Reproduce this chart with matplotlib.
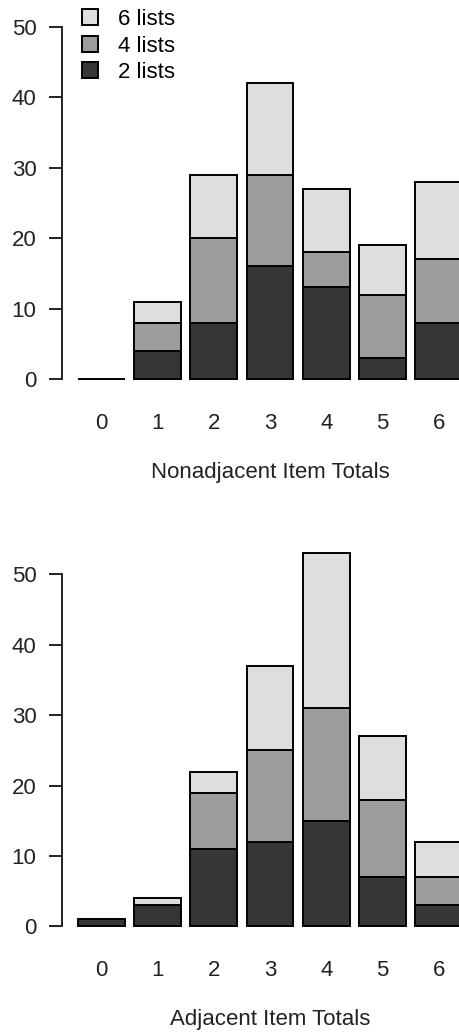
import matplotlib
matplotlib.use("Agg")
import matplotlib.pyplot as plt
from matplotlib.patches import Patch
import numpy as np

plt.rcParams['font.family'] = ['Liberation Sans', 'DejaVu Sans']

categories = [0, 1, 2, 3, 4, 5, 6]
series_names = ["2 lists", "4 lists", "6 lists"]
colors = ["#363636", "#9c9c9c", "#dedede"]

# Nonadjacent item totals, by number of lists
nonadj_2 = [0, 4, 8, 16, 13, 3, 8]
nonadj_4 = [0, 4, 12, 13, 5, 9, 9]
nonadj_6 = [0, 3, 9, 13, 9, 7, 11]

# Adjacent item totals, by number of lists
adj_2 = [1, 3, 11, 12, 15, 7, 3]
adj_4 = [0, 0, 8, 13, 16, 11, 4]
adj_6 = [0, 1, 3, 12, 22, 9, 5]

yticks = [0, 10, 20, 30, 40, 50]

W, H = 460, 1033
fig = plt.figure(figsize=(W / 100, H / 100), dpi=100)

left_px = 62
xlim = (-0.703, 6.38)
bar_w = 1 / 1.2
lw = 1.4
fs = 16
ink = "#222222"


def stacked(ax, layers):
    x = np.arange(len(categories))
    bottom = np.zeros(len(categories))
    for vals, c in zip(layers, colors):
        ax.bar(x, vals, width=bar_w, bottom=bottom, color=c,
               edgecolor="black", linewidth=lw, clip_on=False, zorder=3)
        bottom += np.array(vals)
    ax.set_xlim(*xlim)
    for s in ["top", "right", "bottom"]:
        ax.spines[s].set_visible(False)
    ax.spines["left"].set_bounds(0, 50)
    ax.spines["left"].set_linewidth(lw)
    ax.spines["left"].set_color(ink)
    ax.set_yticks(yticks)
    ax.tick_params(axis="y", length=9.4, width=lw, pad=9,
                   labelsize=fs, colors=ink)
    ax.set_xticks(x)
    ax.set_xticklabels([str(c) for c in categories])
    ax.tick_params(axis="x", length=0, labelsize=fs, colors=ink, pad=14)


def axes_rect(y0_px, ymin, ymax, ppu=7.04):
    bot_px = y0_px - ymin * ppu
    top_px = y0_px - ymax * ppu
    return [left_px / W, 1 - bot_px / H, 1 - left_px / W, (bot_px - top_px) / H]


# upper panel
ylim1 = (-2, 53.5)
ax1 = fig.add_axes(axes_rect(379, *ylim1))
ax1.set_ylim(*ylim1)
stacked(ax1, [nonadj_2, nonadj_4, nonadj_6])

# lower panel
ylim2 = (-2, 55)
ax2 = fig.add_axes(axes_rect(926.4, *ylim2))
ax2.set_ylim(*ylim2)
stacked(ax2, [adj_2, adj_4, adj_6])

# axis titles, centred under the bar group
fig.text(270 / W, 1 - 473 / H, "Nonadjacent Item Totals", ha="center",
         va="center", fontsize=fs, color=ink)
fig.text(270 / W, 1 - 1019 / H, "Adjacent Item Totals", ha="center",
         va="center", fontsize=fs, color=ink)

handles = [Patch(facecolor=c, edgecolor="black", linewidth=lw)
           for c in reversed(colors)]
fig.legend(handles, list(reversed(series_names)), loc="upper left",
           bbox_to_anchor=(82 / W, 1 - 9 / H), frameon=False,
           fontsize=fs, handlelength=0.72, handleheight=0.72,
           handletextpad=0.9, labelspacing=0.25, borderpad=0,
           borderaxespad=0)

fig.savefig("out.png", dpi=100)
